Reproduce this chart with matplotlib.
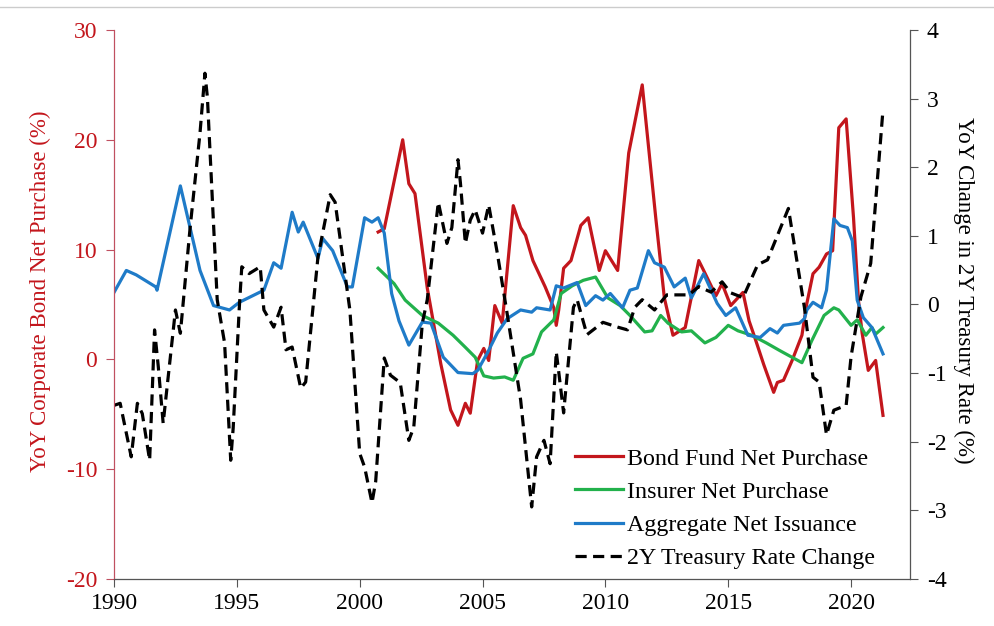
import numpy as np
import matplotlib.pyplot as plt

plt.rcParams['font.family'] = ['Liberation Serif', 'DejaVu Serif']
plt.rcParams['axes.unicode_minus'] = False

# Bond fund net purchase (%), left axis
bf_x = [2000.75, 2001.0, 2001.75, 2002.0, 2002.25, 2002.75, 2003.3, 2003.7, 2004.0, 2004.3,
        2004.5, 2004.8, 2005.05, 2005.25, 2005.5, 2005.8, 2006.25, 2006.55, 2006.75, 2007.05,
        2007.55, 2007.9, 2008.0, 2008.1, 2008.3, 2008.6, 2009.0, 2009.3, 2009.75, 2010.0,
        2010.5, 2010.95, 2011.5, 2012.05, 2012.4, 2012.75, 2013.25, 2013.8, 2014.0, 2014.5,
        2014.75, 2015.1, 2015.6, 2015.85, 2016.05, 2016.45, 2016.85, 2017.0, 2017.25, 2017.6,
        2018.0, 2018.2, 2018.45, 2018.7, 2019.0, 2019.25, 2019.5, 2019.8, 2020.1, 2020.3,
        2020.45, 2020.7, 2021.0, 2021.3]
bf_y = [11.6, 11.9, 20.0, 16.0, 15.1, 6.5, -0.4, -4.6, -6.0, -4.0,
        -4.9, -0.1, 1.0, -0.1, 4.9, 3.3, 14.0, 12.0, 11.3, 9.0,
        6.6, 4.7, 3.1, 4.5, 8.3, 9.0, 12.2, 12.9, 8.1, 9.9,
        8.1, 18.8, 25.0, 12.9, 5.6, 2.2, 2.9, 9.0, 8.1, 5.8,
        6.9, 4.9, 6.1, 3.5, 2.2, -0.5, -3.0, -2.1, -1.9, -0.1,
        2.2, 5.1, 7.8, 8.4, 9.6, 9.9, 21.1, 21.9, 12.9, 5.4,
        2.4, -1.0, -0.1, -5.1]

# Insurer net purchase (%), left axis
ins_x = [2000.75, 2001.4, 2001.85, 2002.55, 2003.2, 2003.8, 2004.3, 2004.7, 2005.05, 2005.45,
         2005.9, 2006.25, 2006.65, 2007.05, 2007.4, 2007.9, 2008.2, 2008.65, 2009.1, 2009.6,
         2010.1, 2010.6, 2011.0, 2011.6, 2011.9, 2012.25, 2012.55, 2013.1, 2013.5, 2014.05,
         2014.5, 2015.0, 2015.4, 2015.95, 2016.55, 2017.1, 2018.0, 2018.4, 2018.9, 2019.3,
         2019.5, 2020.0, 2020.25, 2020.6, 2020.85, 2021.0, 2021.3]
ins_y = [8.3, 6.9, 5.4, 4.0, 3.3, 2.2, 1.1, 0.2, -1.5, -1.7,
         -1.6, -1.9, 0.1, 0.5, 2.5, 3.6, 6.0, 6.7, 7.2, 7.5,
         5.6, 4.9, 4.0, 2.5, 2.6, 4.0, 3.3, 2.5, 2.6, 1.5,
         2.0, 3.1, 2.6, 2.2, 1.5, 0.8, -0.3, 1.7, 4.0, 4.7,
         4.5, 3.1, 3.6, 2.2, 2.9, 2.3, 2.9]

# Aggregate net issuance (%), left axis
agg_x = [1990.0, 1990.5, 1990.9, 1991.7, 1991.75, 1992.7, 1993.5, 1994.05, 1994.7, 1995.1,
         1996.1, 1996.5, 1996.8, 1997.25, 1997.5, 1997.7, 1998.3, 1998.5, 1998.9, 1999.5,
         1999.7, 2000.2, 2000.5, 2000.75, 2001.0, 2001.3, 2001.6, 2002.0, 2002.55, 2002.9,
         2003.4, 2004.0, 2004.6, 2004.8, 2005.2, 2005.6, 2006.0, 2006.55, 2007.0, 2007.2,
         2007.75, 2008.0, 2008.3, 2008.85, 2009.2, 2009.6, 2009.9, 2010.2, 2010.7, 2011.0,
         2011.3, 2011.75, 2012.0, 2012.4, 2012.8, 2013.25, 2013.5, 2014.0, 2014.55, 2014.9,
         2015.3, 2015.8, 2016.3, 2016.7, 2017.0, 2017.25, 2017.9, 2018.1, 2018.2, 2018.45,
         2018.8, 2019.0, 2019.3, 2019.55, 2019.85, 2020.05, 2020.25, 2020.5, 2020.85, 2021.3]
agg_y = [6.1, 8.1, 7.7, 6.6, 6.3, 15.8, 8.1, 4.9, 4.5, 5.2,
         6.3, 8.8, 8.3, 13.4, 11.6, 12.5, 9.2, 11.0, 9.9, 6.6,
         6.6, 12.9, 12.5, 12.9, 11.5, 6.0, 3.5, 1.3, 3.4, 3.3,
         0.2, -1.2, -1.3, -1.0, 0.6, 2.4, 3.7, 4.5, 4.3, 4.7,
         4.5, 6.7, 6.5, 7.0, 4.9, 5.8, 5.4, 6.0, 4.7, 6.3,
         6.5, 9.9, 8.8, 8.4, 6.6, 7.4, 5.6, 7.8, 5.1, 4.0,
         4.7, 2.2, 2.0, 2.8, 2.4, 3.1, 3.3, 3.7, 4.5, 5.2,
         4.7, 6.3, 12.8, 12.2, 12.0, 10.8, 5.4, 3.8, 2.9, 0.5]

# 2Y Treasury rate YoY change (%), right axis
tr_x = [1990.0, 1990.25, 1990.7, 1990.95, 1991.15, 1991.45, 1991.65, 1991.8, 1992.0, 1992.5,
        1992.7, 1993.1, 1993.5, 1993.7, 1993.8, 1994.2, 1994.5, 1994.75, 1994.85, 1995.1,
        1995.2, 1995.5, 1995.95, 1996.1, 1996.5, 1996.8, 1997.0, 1997.25, 1997.6, 1997.8,
        1998.3, 1998.8, 1999.0, 1999.6, 2000.0, 2000.2, 2000.5, 2000.65, 2001.0, 2001.25,
        2001.65, 2002.0, 2002.2, 2002.55, 2002.75, 2003.2, 2003.55, 2003.75, 2004.0, 2004.1,
        2004.3, 2004.5, 2004.7, 2005.0, 2005.25, 2005.6, 2006.0, 2006.55, 2007.0, 2007.2,
        2007.5, 2007.75, 2008.0, 2008.1, 2008.3, 2008.7, 2008.85, 2009.25, 2009.9, 2010.5,
        2010.9, 2011.2, 2011.5, 2012.0, 2012.5, 2013.4, 2013.8, 2014.3, 2014.75, 2015.1,
        2015.6, 2016.2, 2016.6, 2017.45, 2018.1, 2018.45, 2018.7, 2019.0, 2019.3, 2019.8,
        2020.0, 2020.4, 2020.8, 2021.3]
tr_y = [-1.47, -1.44, -2.22, -1.44, -1.59, -2.27, -0.37, -0.9, -1.73, -0.08,
        -0.42, 1.13, 2.5, 3.37, 3.02, 0.07, -0.56, -2.27, -1.8, -0.04,
        0.55, 0.45, 0.55, -0.08, -0.33, -0.04, -0.66, -0.62, -1.22, -1.13,
        0.69, 1.6, 1.49, -0.08, -2.17, -2.37, -2.89, -2.58, -0.78, -1.03,
        -1.14, -1.98, -1.79, -0.27, 0.07, 1.49, 0.89, 1.12, 2.11, 1.77,
        0.89, 1.23, 1.38, 1.04, 1.45, 0.75, -0.13, -1.39, -2.95, -2.22,
        -1.98, -2.32, -0.69, -0.98, -1.58, -0.04, 0.07, -0.44, -0.26, -0.33,
        -0.37, -0.04, 0.07, -0.08, 0.14, 0.14, 0.26, 0.18, 0.33, 0.17,
        0.1, 0.58, 0.65, 1.4, -0.04, -1.06, -1.13, -1.9, -1.54, -1.47,
        -0.76, 0.11, 0.6, 2.84]

red = '#c3161c'
fig = plt.figure(figsize=(9.95, 6.26), dpi=100)
ax = fig.add_axes([0.1146, 0.0751, 0.8, 0.877])
ax2 = ax.twinx()

l1, = ax.plot(bf_x, bf_y, color=red, lw=2.3, label='Bond Fund Net Purchase')
l2, = ax.plot(ins_x, ins_y, color='#22b14c', lw=2.3, label='Insurer Net Purchase')
l3, = ax.plot(agg_x, agg_y, color='#1f7bc8', lw=2.3, label='Aggregate Net Issuance')
l4, = ax2.plot(tr_x, tr_y, color='black', lw=2.3, ls=(0, (3.5, 2)), label='2Y Treasury Rate Change')

ax.set_xlim(1990, 2022.4)
ax.set_ylim(-20, 30)
ax2.set_ylim(-4, 4)
ax.set_xticks(range(1990, 2021, 5))
ax.set_yticks(range(-20, 31, 10))
ax2.set_yticks(range(-4, 5, 1))

for a in (ax, ax2):
    a.spines['top'].set_visible(False)
ax2.spines['left'].set_color('#c05060')
ax2.spines['right'].set_color('#555555')
ax2.spines['bottom'].set_color('#555555')
ax.spines['left'].set_color('#c05060')

ax.tick_params(axis='y', colors=red, labelsize=17, length=6, pad=6)
ax.tick_params(axis='y', color='#c05060')
ax.tick_params(axis='x', labelsize=17, length=6, color='#555555', pad=4)
ax2.tick_params(axis='y', labelsize=17, length=6, color='#555555', pad=6)

ax.set_ylabel('YoY Corporate Bond Net Purchase (%)', color=red, fontsize=16.5)
ax.yaxis.label.set_va('center')
ax.yaxis.set_label_coords(-0.093, 0.525)
ax2.set_ylabel('YoY Change in 2Y Treasury Rate (%)', fontsize=16.5, rotation=270)
ax2.yaxis.label.set_va('center')
ax2.yaxis.set_label_coords(1.067, 0.525)

ax2.legend(handles=[l1, l2, l3, l4], loc='lower left', bbox_to_anchor=(0.579, 0.018),
           frameon=False, fontsize=17.3, handlelength=2.0, handletextpad=0.15,
           labelspacing=0.47, borderaxespad=0, borderpad=0)

fig.add_artist(plt.Line2D([0, 1], [0.989, 0.989], color='#cccccc', lw=1, transform=fig.transFigure))

plt.savefig('out.png', dpi=100)
